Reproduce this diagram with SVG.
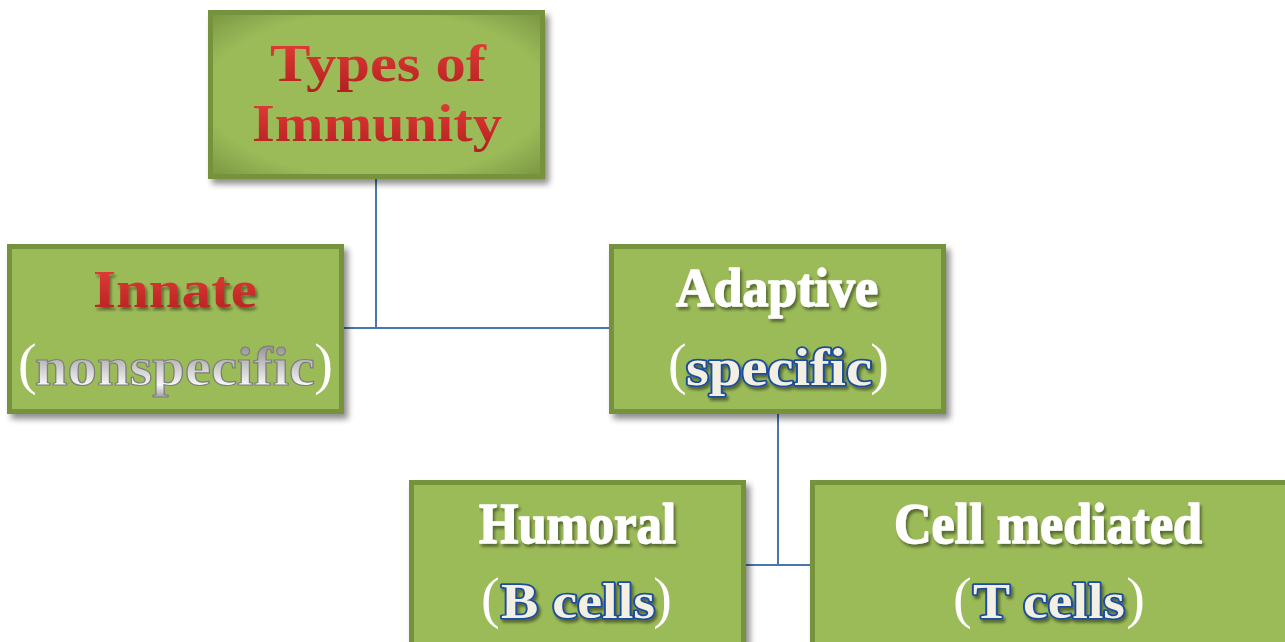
<svg xmlns="http://www.w3.org/2000/svg" width="1285" height="642" viewBox="0 0 1285 642">
<defs>
<filter id="shadow" x="-10%" y="-10%" width="125%" height="130%">
<feGaussianBlur in="SourceAlpha" stdDeviation="3"/>
<feOffset dx="4" dy="5" result="b"/>
<feComponentTransfer><feFuncA type="linear" slope="0.45"/></feComponentTransfer>
<feMerge><feMergeNode/><feMergeNode in="SourceGraphic"/></feMerge>
</filter>
<filter id="tshadow" x="-10%" y="-20%" width="120%" height="150%">
<feGaussianBlur in="SourceAlpha" stdDeviation="1.5"/>
<feOffset dx="2" dy="3"/>
<feComponentTransfer><feFuncA type="linear" slope="0.45"/></feComponentTransfer>
<feMerge><feMergeNode/><feMergeNode in="SourceGraphic"/></feMerge>
</filter>
<linearGradient id="red" x1="0" y1="0" x2="0" y2="1">
<stop offset="0" stop-color="#e8403a"/>
<stop offset="1" stop-color="#b31f1f"/>
</linearGradient>
<linearGradient id="gray" x1="0" y1="0" x2="0" y2="1">
<stop offset="0" stop-color="#7a7a7a"/>
<stop offset="0.6" stop-color="#d8d8d8"/>
<stop offset="0.8" stop-color="#f6f6f6"/>
<stop offset="1" stop-color="#a0a0a0"/>
</linearGradient>
<radialGradient id="inner" cx="0.5" cy="0.5" r="0.72">
<stop offset="0.72" stop-color="#9bbb59"/>
<stop offset="1" stop-color="#7a9642"/>
</radialGradient>
</defs>
<style>
.box{fill:#9bbb59;stroke:#76923c;stroke-width:5}
.conn{stroke:#4a75ad;stroke-width:2;fill:none}
.ser{font-family:"Liberation Serif","DejaVu Serif",serif;font-weight:bold}
.wht{fill:#ffffff;stroke:#ffffff;stroke-width:1.5;stroke-linejoin:round}
.red{fill:url(#red)}
.paren{font-family:"Liberation Serif","DejaVu Serif",serif;font-weight:normal;fill:#ffffff;font-size:56px}
.blue{fill:#f3efe3;stroke:#1c4d9c;stroke-width:3.5;stroke-linejoin:round;paint-order:stroke}
.grey{fill:url(#gray);stroke:#7d7d7d;stroke-width:1.2}
</style>
<g id="connectors">
<path class="conn" d="M376 179 V328 M344 328 H609"/>
<path class="conn" d="M778 414 V565 M746 565 H810"/>
</g>
<g id="node-types">
<rect class="box" x="210.5" y="12.5" width="332" height="164" filter="url(#shadow)"/>
<rect x="213" y="15" width="327" height="159" fill="url(#inner)"/>
<text class="ser red" x="270" y="81" font-size="53" textLength="216" lengthAdjust="spacingAndGlyphs">Types of</text>
<text class="ser red" x="252" y="141" font-size="53" textLength="250" lengthAdjust="spacingAndGlyphs">Immunity</text>
</g>
<g id="node-innate">
<rect class="box" x="9.5" y="246.5" width="332" height="165" filter="url(#shadow)"/>
<text class="ser red" x="93" y="307" font-size="53" textLength="164" lengthAdjust="spacingAndGlyphs" filter="url(#tshadow)">Innate</text>
<text class="paren" x="18" y="383">(</text>
<text class="ser grey" x="35" y="385" font-size="55" textLength="280" lengthAdjust="spacingAndGlyphs">nonspecific</text>
<text class="paren" x="333" y="383" text-anchor="end">)</text>
</g>
<g id="node-adaptive">
<rect class="box" x="611.5" y="246.5" width="332" height="165" filter="url(#shadow)"/>
<text class="ser wht" x="676" y="306" font-size="55" textLength="202" lengthAdjust="spacingAndGlyphs" filter="url(#tshadow)">Adaptive</text>
<text class="paren" x="668" y="383">(</text>
<text class="ser blue" x="686" y="385" font-size="52" textLength="186" lengthAdjust="spacingAndGlyphs" filter="url(#tshadow)">specific</text>
<text class="paren" x="889" y="383" text-anchor="end">)</text>
</g>
<g id="node-humoral">
<rect class="box" x="411.5" y="482.5" width="332" height="170" filter="url(#shadow)"/>
<text class="ser wht" x="479" y="543" font-size="57" textLength="197" lengthAdjust="spacingAndGlyphs" filter="url(#tshadow)">Humoral</text>
<text class="paren" x="481" y="617">(</text>
<text class="ser blue" x="501" y="618" font-size="50" textLength="154" lengthAdjust="spacingAndGlyphs" filter="url(#tshadow)">B cells</text>
<text class="paren" x="672" y="617" text-anchor="end">)</text>
</g>
<g id="node-cell">
<rect class="box" x="812.5" y="482.5" width="490" height="170" filter="url(#shadow)"/>
<text class="ser wht" x="894" y="543" font-size="57" textLength="308" lengthAdjust="spacingAndGlyphs" filter="url(#tshadow)">Cell mediated</text>
<text class="paren" x="953" y="617">(</text>
<text class="ser blue" x="973" y="618" font-size="50" textLength="152" lengthAdjust="spacingAndGlyphs" filter="url(#tshadow)">T cells</text>
<text class="paren" x="1145" y="617" text-anchor="end">)</text>
</g>
</svg>
